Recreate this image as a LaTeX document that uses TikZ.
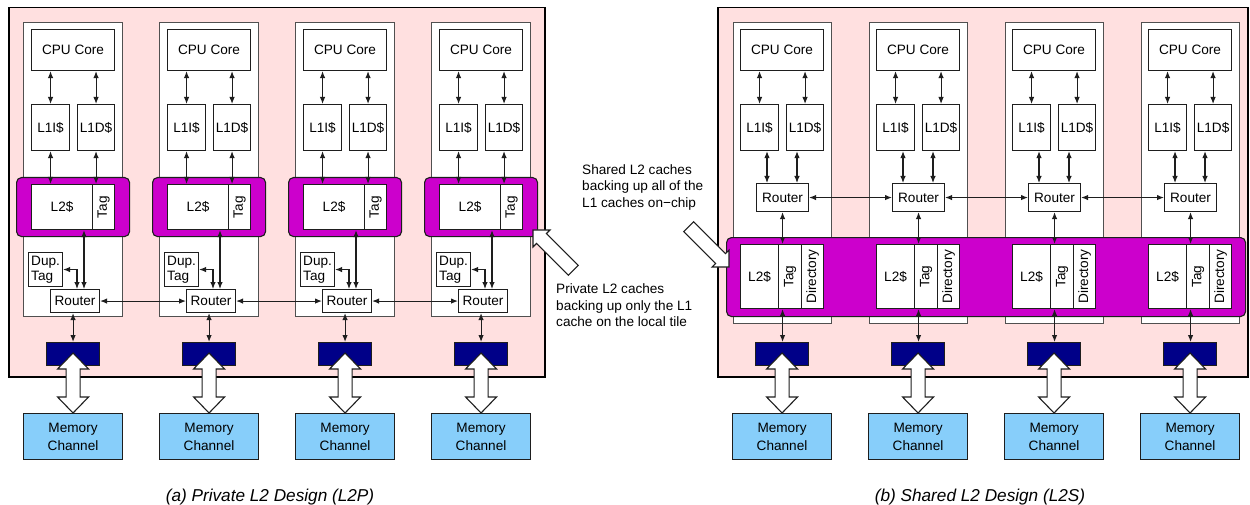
\documentclass[tikz,border=0pt]{standalone}
\usepackage{fontspec}
\setmainfont{Liberation Sans}
\usepackage{graphicx}
\usetikzlibrary{arrows.meta,calc}
\definecolor{chippink}{RGB}{255,224,224}
\definecolor{l2mag}{RGB}{204,0,204}
\definecolor{mcnavy}{RGB}{0,0,136}
\definecolor{memblue}{RGB}{135,206,250}
\definecolor{boxline}{RGB}{30,30,30}
\definecolor{tileline}{RGB}{80,80,80}
\newcommand\rbox[7][]{\node[bx,#1,minimum width={(#5)-(#3)},minimum height={(#6)-(#4)},anchor=north west] (#2) at ({\ox+#3},{#4}) {#7};}
\begin{document}
\begin{tikzpicture}[x=1pt,y=-1pt,
 bx/.style={draw=boxline,fill=white,line width=1.1pt,inner sep=0pt,font=\fontsize{13.6}{15}\selectfont},
 tilebox/.style={bx,draw=tileline},
 magblock/.style={bx,fill=l2mag,draw=boxline,rounded corners=5pt},
 mcbox/.style={bx,fill=mcnavy},
 membox/.style={bx,fill=memblue,align=center,font=\fontsize{13.6}{18}\selectfont},
 chip/.style={draw=black,line width=1.5pt,fill=chippink},
 duptag/.style={align=left,font=\fontsize{13.6}{15}\selectfont},
 link/.style={line width=1.1pt,draw=boxline,{Latex[length=7pt,width=5.5pt]}-{Latex[length=7pt,width=5.5pt]}},
 bigarrow/.style={draw=boxline,fill=white,line width=1.1pt,line join=miter},
 callout/.style={draw=boxline,fill=white,line width=1.1pt},
 note/.style={inner sep=0pt,align=left,anchor=north west,font=\fontsize{13.6}{16.5}\selectfont},
 caption/.style={inner sep=0pt,anchor=base,font=\fontsize{17.2}{19}\selectfont\itshape}]
\useasboundingbox (0,0) rectangle (1250,505);
% ---------- panel (a) ----------
\def\ox{0}
\rbox[chip]{chipa}{8}{7}{544}{376}{}
\foreach \i in {0,...,3}{
 \pgfmathsetmacro\ox{23+136*\i}
 \rbox[tilebox]{ta\i}{0}{22}{99}{316}{}
 \rbox{cpua\i}{8}{29}{91}{70}{CPU Core}
 \rbox{l1ia\i}{8}{104}{46}{150}{L1I\$}
 \rbox{l1da\i}{54}{104}{91}{150}{L1D\$}
 \rbox[magblock]{maga\i}{-7}{177}{106}{236}{}
 \rbox{l2a\i}{8}{184}{69}{229}{L2\$}
 \rbox{taga\i}{69}{184}{91}{229}{\rotatebox{90}{Tag}}
 \rbox[duptag]{dupa\i}{5}{252}{39}{286}{Dup.\\Tag}
 \rbox{rta\i}{27}{289}{76}{312}{Router}
 \rbox[mcbox]{mca\i}{23}{342}{76}{365}{}
 \rbox[membox]{mema\i}{0}{413}{99}{459}{Memory\\Channel}
 \draw[link] (l1ia\i.north) -- (cpua\i.south -| l1ia\i.north);
 \draw[link] (l1da\i.north) -- (cpua\i.south -| l1da\i.north);
 \draw[link] (l1ia\i.south) -- (l2a\i.north -| l1ia\i.south);
 \draw[link] (l1da\i.south) -- (taga\i.north -| l1da\i.south);
 \draw[link] ([xshift=53pt]l2a\i.south west) -- ([xshift=34pt]rta\i.north west);
 \draw[link] (dupa\i.east) -| ([xshift=27pt]rta\i.north west);
 \draw[link] (rta\i.south -| mca\i.north) -- (mca\i.north);
 \draw[bigarrow] (mema\i.north) -- ++(-15.5,-16) -- ++(8.5,0) -- ++(0,-28) -- ++(-8.5,0) -- ++(15.5,-16) -- ++(15.5,16) -- ++(-8.5,0) -- ++(0,28) -- ++(8.5,0) -- cycle;
}
\foreach \i/\j in {0/1,1/2,2/3}{\draw[link] (rta\i.east) -- (rta\j.west);}
% ---------- panel (b) ----------
\def\ox{0}
\rbox[chip]{chipb}{717}{7}{1247}{376}{}
\foreach \i in {0,...,3}{
 \pgfmathsetmacro\ox{733+136*\i}
 \rbox[tilebox]{tb\i}{0}{22}{98}{323}{}
 \rbox{cpub\i}{7}{29}{90}{70}{CPU Core}
 \rbox{l1ib\i}{7}{104}{45}{150}{L1I\$}
 \rbox{l1db\i}{53}{104}{90}{150}{L1D\$}
 \rbox{rtb\i}{23}{183}{75}{211}{Router}
 \rbox[mcbox]{mcb\i}{22}{342}{75}{365}{}
 \rbox[membox]{memb\i}{-1}{413}{98}{459}{Memory\\Channel}
 \coordinate (pi\i) at ([xshift=11pt]rtb\i.north west);
 \coordinate (pd\i) at ([xshift=41pt]rtb\i.north west);
 \draw[link] (l1ib\i.north) -- (cpub\i.south -| l1ib\i.north);
 \draw[link] (l1db\i.north) -- (cpub\i.south -| l1db\i.north);
 \draw[link] (pi\i) -- (pi\i |- l1ib\i.south);
 \draw[link] (pd\i) -- (pd\i |- l1db\i.south);
}
\rbox[magblock]{magb}{726}{237}{1245}{316}{}
\foreach \i in {0,...,3}{
 \pgfmathsetmacro\ox{733+136*\i}
 \rbox{l2b\i}{7}{244}{45}{308}{L2\$}
 \rbox{tagb\i}{45}{244}{68}{308}{\rotatebox{90}{Tag}}
 \rbox{dirb\i}{68}{244}{90}{308}{\rotatebox{90}{Directory}}
 \draw[link] (rtb\i.south) -- (tagb\i.north -| rtb\i.south);
 \draw[link] (tagb\i.south -| rtb\i.south) -- (mcb\i.north -| rtb\i.south);
 \draw[bigarrow] (memb\i.north) -- ++(-15.5,-16) -- ++(8.5,0) -- ++(0,-28) -- ++(-8.5,0) -- ++(15.5,-16) -- ++(15.5,16) -- ++(-8.5,0) -- ++(0,28) -- ++(8.5,0) -- cycle;
}
\foreach \i/\j in {0/1,1/2,2/3}{\draw[link] (rtb\i.east) -- (rtb\j.west);}
% ---------- callouts ----------
\begin{scope}[shift={(533,230)},rotate=135]
 \draw[callout] (0,0) -- (-12,12) -- (-12,7) -- (-57,7) -- (-57,-7) -- (-12,-7) -- (-12,-12) -- cycle;
\end{scope}
\begin{scope}[shift={(729,267)},rotate=-45]
 \draw[callout] (0,0) -- (-12,12) -- (-12,7) -- (-57,7) -- (-57,-7) -- (-12,-7) -- (-12,-12) -- cycle;
\end{scope}
\node[note] (nshared) at (582,164) {Shared L2 caches\\backing up all of the\\L1 caches on−chip};
\node[note] (npriv) at (556,283.5) {Private L2 caches\\backing up only the L1\\cache on the local tile};
\node[caption] (capa) at (270,501) {(a) Private L2 Design (L2P)};
\node[caption] (capb) at (980,501) {(b) Shared L2 Design (L2S)};
\end{tikzpicture}
\end{document}
